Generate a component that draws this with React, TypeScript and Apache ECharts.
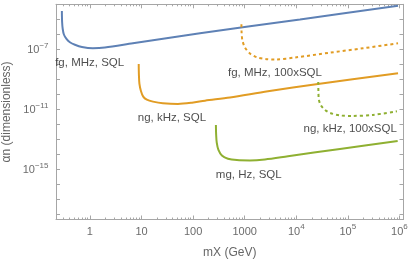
import React, { useEffect, useRef } from "react";
import * as echarts from "echarts";

// [mass (GeV), alpha (dimensionless)]
const fgMHzSQL: [number, number][] = [
  [0.286, 3.57e-5], [0.289, 6.6e-6], [0.297, 2.25e-6], [0.313, 9.7e-7], [0.351, 4.86e-7],
  [0.409, 2.93e-7], [0.512, 2.0e-7], [0.7, 1.42e-7], [1.14, 1.17e-7], [1.95, 1.3e-7],
  [6.8, 2.5e-7], [136, 1.17e-6], [1.18e4, 9.7e-6], [9.4e5, 8.1e-5],
];
const fgMHz100SQL: [number, number][] = [
  [865, 4.64e-6], [873, 1.22e-6], [905, 3.86e-7], [1012, 1.32e-7], [1265, 5.25e-8],
  [1706, 2.97e-8], [2667, 2.19e-8], [3864, 2.09e-8], [1.02e4, 2.93e-8], [4.5e4, 5.93e-8],
  [1.99e5, 1.17e-7], [9.4e5, 2.51e-7],
];
const ngKHzSQL: [number, number][] = [
  [8.83, 1.05e-8], [8.91, 1.94e-9], [9.12, 4.86e-10], [9.75, 1.66e-10], [10.8, 6.9e-11],
  [12.7, 4.3e-11], [16.7, 3.21e-11], [26, 2.51e-11], [50.8, 2.25e-11], [95, 2.71e-11],
  [170, 3.69e-11], [518, 6.1e-11], [2825, 1.58e-10], [2.63e4, 4.86e-10], [9.4e5, 2.51e-9],
];
const ngKHz100SQL: [number, number][] = [
  [2.67e4, 6.6e-10], [2.69e4, 1.42e-10], [2.75e4, 4.17e-11], [3.01e4, 1.79e-11], [3.6e4, 8.98e-12],
  [4.5e4, 5.67e-12], [7.05e4, 3.86e-12], [1.2e5, 3.57e-12], [3.07e5, 4.17e-12], [8.95e5, 7.36e-12],
];
const mgHzSQL: [number, number][] = [
  [277, 8.98e-13], [280, 1.94e-13], [288, 5.67e-14], [310, 1.94e-14], [362, 8.3e-15],
  [474, 5.0e-15], [708, 4.04e-15], [1265, 3.86e-15], [2472, 4.5e-15], [6900, 7.36e-15],
  [7.03e4, 2.26e-14], [9.25e5, 7.7e-14],
];

const curveLabels = ["fg, MHz, SQL", "ng, kHz, SQL", "fg, MHz, 100xSQL", "ng, kHz, 100xSQL", "mg, Hz, SQL"];
const curveLabelAnchors: [number, number][] = [
  [0.99, 1.42e-8], [38.9, 3.07e-12], [3864, 2.84e-9], [1.11e5, 5.41e-13], [1200, 5.1e-16],
];

const xRange = [0.22, 1.2e6];
const yRange = [4.4e-19, 1e-4];
const xMajorTicks = [1, 10, 100, 1000, 1e4, 1e5, 1e6];
const yTicks = [1e-18, 1e-17, 1e-16, 1e-15, 1e-14, 1e-13, 1e-12, 1e-11, 1e-10, 1e-9, 1e-8, 1e-7, 1e-6, 1e-5];
const yLabelTicks = [1e-15, 1e-11, 1e-7];

const BLUE = "#5E81B5";
const ORANGE = "#E19C24";
const GREEN = "#8FB032";
const FRAME = "#a6a6a6";
const TICKTXT = "#6b6b6b";
const FONT = "'Liberation Sans', Arial, sans-serif";

const lg = (v: number) => Math.log10(v);
const toLog = (pts: [number, number][]) => pts.map(([m, a]) => [lg(m), lg(a)]);

export default function App() {
  const ref = useRef<HTMLDivElement>(null);
  useEffect(() => {
    if (!ref.current) return;
    const chart = echarts.init(ref.current, undefined, { renderer: "svg" });

    const xMinor: number[] = [];
    for (let d = -1; d <= 5; d++) {
      for (let k = 2; k <= 9; k++) {
        const v = k * Math.pow(10, d);
        if (v >= xRange[0] && v <= xRange[1]) xMinor.push(lg(v));
      }
    }
    const xMajorLog = xMajorTicks.map(lg);
    const yTickLog = yTicks.map(lg);
    const yLabLog = yLabelTicks.map(lg);
    const xMin = lg(xRange[0]);
    const xMax = lg(xRange[1]);
    const yMin = lg(yRange[0]);
    const yMax = lg(yRange[1]);

    const rich = {
      b: { fontSize: 11, color: TICKTXT, fontFamily: FONT, lineHeight: 16 },
      s: { fontSize: 8, color: TICKTXT, fontFamily: FONT, lineHeight: 9, verticalAlign: "top" as const },
    };

    const frameLine = (show: boolean) => ({ show, onZero: false, lineStyle: { color: FRAME, width: 1 } });

    const baseX = (pos: "bottom" | "top") => ({
      type: "value" as const,
      position: pos,
      min: xMin,
      max: xMax,
      splitLine: { show: false },
    });
    const baseY = (pos: "left" | "right") => ({
      type: "value" as const,
      position: pos,
      min: yMin,
      max: yMax,
      splitLine: { show: false },
    });

    const lineSeries = (pts: [number, number][], color: string, dotted: boolean) => ({
      type: "line" as const,
      data: toLog(pts),
      showSymbol: false,
      smooth: 0.3,
      clip: true,
      silent: true,
      lineStyle: { color, width: 2, type: dotted ? [3, 3] : "solid" },
      z: 3,
    });

    chart.setOption({
      animation: false,
      grid: { left: 56, right: 6.5, top: 4.3, bottom: 42.5, containLabel: false, outerBoundsMode: "none" },
      xAxis: [
        {
          ...baseX("bottom"),
          axisLine: frameLine(true),
          axisTick: { show: true, inside: true, length: 4, customValues: xMajorLog, lineStyle: { color: FRAME } },
          axisLabel: {
            show: true,
            customValues: xMajorLog,
            margin: 3,
            formatter: (v: number) => {
              const p = Math.round(v);
              return p <= 3 ? `{b|${Math.pow(10, p)}}` : `{b|10}{s|${p}}`;
            },
            rich,
          },
          name: "mX (GeV)",
          nameLocation: "middle",
          nameGap: 26,
          nameTextStyle: { fontSize: 12, color: "#666", fontFamily: FONT },
        },
        {
          ...baseX("bottom"),
          axisLine: frameLine(false),
          axisTick: { show: true, inside: true, length: 2, customValues: xMinor, lineStyle: { color: FRAME } },
          axisLabel: { show: false },
        },
        {
          ...baseX("top"),
          axisLine: frameLine(true),
          axisTick: { show: true, inside: true, length: 4, customValues: xMajorLog, lineStyle: { color: FRAME } },
          axisLabel: { show: false },
        },
        {
          ...baseX("top"),
          axisLine: frameLine(false),
          axisTick: { show: true, inside: true, length: 2, customValues: xMinor, lineStyle: { color: FRAME } },
          axisLabel: { show: false },
        },
      ],
      yAxis: [
        {
          ...baseY("left"),
          axisLine: frameLine(true),
          axisTick: { show: true, inside: true, length: 4, customValues: yTickLog, lineStyle: { color: FRAME } },
          axisLabel: {
            show: true,
            customValues: yLabLog,
            margin: 7.5,
            formatter: (v: number) => `{b|10}{s|\u2212${-Math.round(v)}}`,
            rich,
          },
          name: "\u03b1n (dimensionless)",
          nameLocation: "middle",
          nameGap: 42,
          nameTextStyle: { fontSize: 12, color: "#666", fontFamily: FONT },
        },
        {
          ...baseY("right"),
          axisLine: frameLine(true),
          axisTick: { show: true, inside: true, length: 4, customValues: yTickLog, lineStyle: { color: FRAME } },
          axisLabel: { show: false },
        },
      ],
      series: [
        lineSeries(fgMHzSQL, BLUE, false),
        lineSeries(ngKHzSQL, ORANGE, false),
        lineSeries(mgHzSQL, GREEN, false),
        lineSeries(fgMHz100SQL, ORANGE, true),
        lineSeries(ngKHz100SQL, GREEN, true),
        {
          type: "scatter",
          symbolSize: 0,
          silent: true,
          z: 5,
          data: curveLabels.map((t, i) => ({
            name: t,
            value: [lg(curveLabelAnchors[i][0]), lg(curveLabelAnchors[i][1])],
          })),
          label: {
            show: true,
            position: "inside",
            formatter: "{b}",
            fontSize: 11.5,
            color: "#222",
            fontFamily: FONT,
            align: "center",
            verticalAlign: "middle",
          },
        },
      ],
    });
    return () => chart.dispose();
  }, []);
  return <div ref={ref} style={{ position: "fixed", left: 0, top: 0, width: 410, height: 262 }} />;
}
